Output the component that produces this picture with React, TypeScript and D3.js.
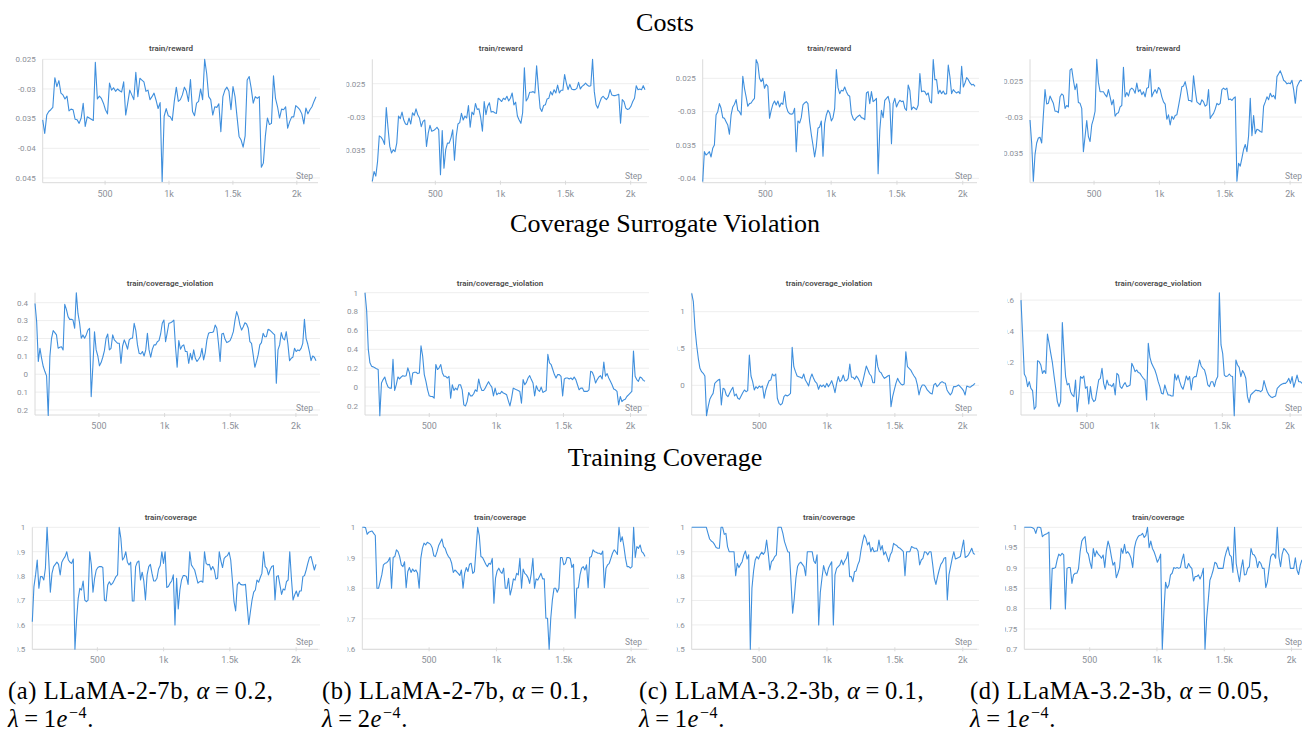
import React from "react";
import * as d3 from "d3";

// train/reward, one array per run (a)-(d)
const rewardA = [
  -0.0352,-0.0375,-0.0344,-0.0338,-0.0335,-0.0331,-0.0281,-0.0296,-0.0286,-0.0307,
  -0.0310,-0.0317,-0.0312,-0.0337,-0.0334,-0.0335,-0.0351,-0.0352,-0.0358,-0.0349,
  -0.0324,-0.0363,-0.0347,-0.0349,-0.0351,-0.0353,-0.0255,-0.0317,-0.0312,-0.0316,
  -0.0324,-0.0335,-0.0342,-0.0290,-0.0302,-0.0298,-0.0304,-0.0300,-0.0303,-0.0305,
  -0.0288,-0.0344,-0.0324,-0.0302,-0.0310,-0.0318,-0.0272,-0.0313,-0.0282,-0.0285,
  -0.0288,-0.0304,-0.0302,-0.0318,-0.0313,-0.0307,-0.0319,-0.0333,-0.0323,-0.0456,
  -0.0346,-0.0333,-0.0345,-0.0347,-0.0353,-0.0321,-0.0297,-0.0321,-0.0318,-0.0310,
  -0.0297,-0.0304,-0.0321,-0.0284,-0.0338,-0.0345,-0.0324,-0.0321,-0.0300,-0.0318,
  -0.0250,-0.0274,-0.0313,-0.0318,-0.0344,-0.0330,-0.0331,-0.0325,-0.0372,-0.0313,
  -0.0302,-0.0297,-0.0304,-0.0335,-0.0296,-0.0313,-0.0347,-0.0380,-0.0386,-0.0398,
  -0.0379,-0.0285,-0.0279,-0.0299,-0.0324,-0.0313,-0.0316,-0.0313,-0.0432,-0.0425,
  -0.0379,-0.0349,-0.0360,-0.0358,-0.0278,-0.0316,-0.0330,-0.0349,-0.0334,-0.0335,
  -0.0330,-0.0366,-0.0355,-0.0347,-0.0347,-0.0328,-0.0331,-0.0335,-0.0342,-0.0359,
  -0.0332,-0.0342,-0.0335,-0.0330,-0.0321,-0.0313,
];
const rewardB = [
  -0.0398,-0.0383,-0.0390,-0.0368,-0.0329,-0.0331,-0.0335,-0.0342,-0.0286,-0.0317,
  -0.0345,-0.0355,-0.0350,-0.0353,-0.0340,-0.0299,-0.0303,-0.0293,-0.0305,-0.0311,
  -0.0312,-0.0302,-0.0311,-0.0294,-0.0298,-0.0288,-0.0297,-0.0302,-0.0315,-0.0307,
  -0.0305,-0.0345,-0.0325,-0.0313,-0.0322,-0.0321,-0.0319,-0.0316,-0.0320,-0.0388,
  -0.0321,-0.0378,-0.0350,-0.0340,-0.0340,-0.0332,-0.0320,-0.0366,-0.0330,-0.0311,
  -0.0309,-0.0295,-0.0305,-0.0299,-0.0302,-0.0283,-0.0316,-0.0293,-0.0297,-0.0280,
  -0.0289,-0.0288,-0.0301,-0.0322,-0.0277,-0.0297,-0.0284,-0.0279,-0.0293,-0.0292,
  -0.0294,-0.0295,-0.0272,-0.0274,-0.0277,-0.0272,-0.0274,-0.0269,-0.0276,-0.0272,
  -0.0264,-0.0282,-0.0278,-0.0299,-0.0305,-0.0310,-0.0294,-0.0226,-0.0276,-0.0272,
  -0.0263,-0.0263,-0.0262,-0.0264,-0.0223,-0.0257,-0.0287,-0.0292,-0.0283,-0.0282,
  -0.0273,-0.0272,-0.0262,-0.0267,-0.0259,-0.0264,-0.0252,-0.0264,-0.0260,-0.0260,
  -0.0236,-0.0249,-0.0259,-0.0251,-0.0258,-0.0259,-0.0259,-0.0257,-0.0248,-0.0258,
  -0.0254,-0.0252,-0.0249,-0.0252,-0.0254,-0.0253,-0.0213,-0.0262,-0.0282,-0.0287,
  -0.0279,-0.0272,-0.0269,-0.0272,-0.0274,-0.0270,-0.0259,-0.0267,-0.0268,-0.0268,
  -0.0267,-0.0266,-0.0310,-0.0274,-0.0277,-0.0287,-0.0289,-0.0288,-0.0284,-0.0277,
  -0.0272,-0.0253,-0.0259,-0.0258,-0.0259,-0.0253,-0.0259,
];
const rewardC = [
  -0.0405,-0.0360,-0.0365,-0.0363,-0.0360,-0.0368,-0.0355,-0.0350,-0.0305,-0.0300,
  -0.0288,-0.0295,-0.0309,-0.0310,-0.0315,-0.0320,-0.0334,-0.0305,-0.0293,-0.0289,
  -0.0282,-0.0298,-0.0300,-0.0305,-0.0247,-0.0265,-0.0278,-0.0292,-0.0288,-0.0287,
  -0.0283,-0.0280,-0.0222,-0.0228,-0.0250,-0.0255,-0.0250,-0.0265,-0.0259,-0.0262,
  -0.0310,-0.0298,-0.0289,-0.0284,-0.0290,-0.0284,-0.0293,-0.0287,-0.0289,-0.0270,
  -0.0292,-0.0300,-0.0303,-0.0304,-0.0303,-0.0295,-0.0360,-0.0314,-0.0317,-0.0309,
  -0.0290,-0.0287,-0.0285,-0.0288,-0.0315,-0.0334,-0.0350,-0.0368,-0.0352,-0.0325,
  -0.0323,-0.0314,-0.0367,-0.0318,-0.0305,-0.0298,-0.0302,-0.0314,-0.0309,-0.0295,
  -0.0237,-0.0264,-0.0273,-0.0268,-0.0269,-0.0263,-0.0270,-0.0275,-0.0277,-0.0303,
  -0.0310,-0.0313,-0.0309,-0.0307,-0.0305,-0.0309,-0.0310,-0.0312,-0.0272,-0.0270,
  -0.0288,-0.0270,-0.0285,-0.0283,-0.0280,-0.0393,-0.0328,-0.0298,-0.0309,-0.0283,
  -0.0280,-0.0277,-0.0288,-0.0348,-0.0288,-0.0280,-0.0293,-0.0287,-0.0283,-0.0285,
  -0.0284,-0.0295,-0.0298,-0.0260,-0.0268,-0.0297,-0.0293,-0.0295,-0.0297,-0.0290,
  -0.0243,-0.0270,-0.0269,-0.0270,-0.0275,-0.0272,-0.0285,-0.0287,-0.0222,-0.0252,
  -0.0252,-0.0273,-0.0268,-0.0273,-0.0269,-0.0274,-0.0273,-0.0230,-0.0248,-0.0273,
  -0.0267,-0.0270,-0.0272,-0.0270,-0.0273,-0.0232,-0.0263,-0.0257,-0.0249,-0.0252,
  -0.0257,-0.0260,-0.0259,-0.0262,
];
const rewardD = [
  -0.0304,-0.0336,-0.0389,-0.0352,-0.0336,-0.0329,-0.0328,-0.0336,-0.0298,-0.0262,
  -0.0282,-0.0281,-0.0271,-0.0276,-0.0281,-0.0292,-0.0292,-0.0294,-0.0272,-0.0268,
  -0.0270,-0.0288,-0.0284,-0.0286,-0.0235,-0.0233,-0.0249,-0.0262,-0.0254,-0.0280,
  -0.0281,-0.0288,-0.0348,-0.0327,-0.0305,-0.0327,-0.0334,-0.0311,-0.0303,-0.0292,
  -0.0220,-0.0252,-0.0265,-0.0265,-0.0265,-0.0269,-0.0272,-0.0262,-0.0272,-0.0283,
  -0.0276,-0.0299,-0.0295,-0.0294,-0.0286,-0.0284,-0.0231,-0.0272,-0.0266,-0.0271,
  -0.0262,-0.0260,-0.0262,-0.0267,-0.0253,-0.0265,-0.0262,-0.0269,-0.0265,-0.0272,
  -0.0260,-0.0259,-0.0234,-0.0272,-0.0266,-0.0262,-0.0267,-0.0259,-0.0262,-0.0272,
  -0.0279,-0.0282,-0.0303,-0.0297,-0.0311,-0.0299,-0.0303,-0.0298,-0.0297,-0.0285,
  -0.0272,-0.0258,-0.0257,-0.0251,-0.0262,-0.0277,-0.0277,-0.0279,-0.0243,-0.0263,
  -0.0279,-0.0281,-0.0283,-0.0276,-0.0279,-0.0285,-0.0283,-0.0262,-0.0302,-0.0298,
  -0.0295,-0.0289,-0.0281,-0.0283,-0.0281,-0.0262,-0.0260,-0.0262,-0.0260,-0.0276,
  -0.0275,-0.0277,-0.0274,-0.0272,-0.0389,-0.0364,-0.0368,-0.0357,-0.0345,-0.0338,
  -0.0348,-0.0326,-0.0274,-0.0326,-0.0298,-0.0323,-0.0317,-0.0318,-0.0320,-0.0321,
  -0.0285,-0.0279,-0.0272,-0.0276,-0.0267,-0.0272,-0.0270,-0.0275,-0.0244,-0.0240,
  -0.0236,-0.0242,-0.0249,-0.0251,-0.0254,-0.0253,-0.0254,-0.0249,-0.0262,-0.0281,
  -0.0258,-0.0253,-0.0249,-0.0250,
];

// train/coverage_violation
const violationA = [
  0.396,0.294,0.071,0.145,0.089,0.043,0.015,-0.009,-0.231,0.099,
  0.201,0.244,0.233,0.220,0.145,0.151,0.154,0.136,0.391,0.363,
  0.322,0.307,0.307,0.303,0.257,0.456,0.340,0.285,0.201,0.220,
  0.201,0.220,0.247,0.257,-0.125,0.043,0.238,0.136,0.102,0.047,
  0.065,0.095,0.132,0.201,0.225,0.136,0.145,0.220,0.192,0.182,
  0.173,0.173,0.061,0.158,0.192,0.169,0.140,0.192,0.201,0.201,
  0.285,0.244,0.164,0.117,0.113,0.127,0.102,0.136,0.229,0.136,
  0.095,0.140,0.164,0.164,0.182,0.188,0.225,0.285,0.303,0.182,
  0.233,0.285,0.288,0.294,0.303,0.154,0.039,0.188,0.140,0.158,
  0.164,0.127,0.127,0.061,0.117,0.080,0.136,0.089,0.071,0.084,
  0.099,0.145,0.080,0.121,0.192,0.229,0.233,0.233,0.238,0.275,
  0.257,0.173,0.071,0.225,0.229,0.195,0.177,0.182,0.188,0.210,
  0.238,0.303,0.350,0.322,0.275,0.247,0.266,0.288,0.281,0.257,
  0.182,0.173,0.108,0.039,0.071,0.108,0.164,0.177,0.229,0.210,
  0.210,0.251,0.247,0.238,0.229,0.220,-0.050,0.136,0.164,0.233,
  0.201,0.192,0.238,0.169,0.076,0.089,0.095,0.145,0.127,0.136,
  0.132,0.145,0.173,0.307,0.201,0.169,0.127,0.076,0.102,0.095,
  0.076,
];
const violationB = [
  1.0,0.811,0.400,0.257,0.221,0.214,0.204,0.193,0.186,-0.304,
  0.043,0.079,0.107,0.043,0.0,-0.011,-0.011,0.293,-0.036,0.025,
  0.107,0.086,0.107,0.121,0.114,0.121,0.204,0.150,0.025,0.150,
  0.157,0.157,0.143,0.150,0.436,0.329,0.132,0.061,-0.029,-0.093,
  -0.100,-0.100,-0.118,0.239,0.186,0.204,0.239,0.150,0.114,0.114,
  0.096,0.114,-0.118,0.025,-0.036,-0.011,-0.029,0.025,0.025,-0.029,
  -0.189,-0.200,-0.154,-0.057,-0.093,-0.093,-0.071,-0.029,-0.046,0.086,
  0.007,-0.036,-0.036,-0.011,0.025,0.057,0.025,0.0,-0.093,-0.011,
  -0.082,-0.064,-0.071,-0.046,-0.064,-0.071,-0.082,-0.143,-0.200,-0.118,
  -0.011,-0.021,-0.029,-0.036,-0.046,-0.171,0.079,0.025,0.050,0.096,
  0.121,0.079,0.043,-0.093,0.014,-0.029,-0.046,0.0,-0.057,-0.046,
  -0.036,0.346,0.257,0.239,0.186,0.132,0.096,0.132,0.132,0.114,
  -0.093,0.086,0.096,0.096,0.086,0.096,0.079,0.107,0.079,0.025,
  -0.029,-0.011,-0.011,-0.046,-0.046,-0.046,-0.029,0.168,0.157,0.114,
  0.043,0.079,0.107,0.121,0.086,0.264,0.114,0.143,0.096,0.061,
  0.025,-0.021,-0.029,-0.046,-0.189,-0.100,-0.154,-0.136,-0.129,-0.100,
  -0.082,-0.064,-0.046,0.382,0.114,0.079,0.061,0.107,0.096,0.071,
  0.061,
];
const violationC = [
  1.249,1.136,0.774,0.548,0.367,0.231,0.186,0.163,0.127,-0.412,
  -0.290,-0.190,-0.145,-0.109,0.027,0.050,0.072,0.081,-0.267,-0.041,
  -0.054,-0.131,-0.154,-0.109,-0.063,-0.027,-0.145,-0.118,-0.176,-0.190,
  -0.145,-0.100,-0.063,-0.086,-0.072,0.412,0.127,0.050,-0.063,-0.018,
  -0.041,-0.009,-0.027,-0.009,-0.176,-0.063,0.005,0.063,0.072,0.154,
  0.127,0.154,-0.176,-0.244,-0.267,-0.244,-0.154,-0.131,-0.145,-0.131,
  -0.109,0.516,0.253,0.186,0.127,0.118,0.109,0.095,0.154,0.072,
  0.036,-0.009,0.095,0.154,0.095,0.050,0.027,-0.054,0.005,-0.018,
  0.005,-0.027,0.027,-0.018,0.018,0.063,-0.009,-0.100,0.027,0.118,
  0.050,0.072,0.140,0.063,0.063,0.095,0.290,0.109,0.109,0.081,
  0.127,0.095,0.050,-0.018,0.063,0.163,0.262,0.208,0.154,0.127,
  0.036,0.036,0.412,0.253,0.186,0.172,0.127,0.095,0.109,0.127,
  0.136,-0.290,-0.154,-0.063,0.027,0.095,0.050,0.018,0.005,0.018,
  0.457,0.253,0.231,0.208,0.163,0.127,0.095,0.005,-0.131,-0.041,
  0.005,0.005,-0.018,-0.063,-0.086,-0.109,-0.118,0.005,0.027,-0.018,
  0.005,0.036,0.050,0.036,0.027,-0.063,-0.100,-0.131,-0.100,-0.018,
  -0.018,-0.009,0.005,-0.018,-0.041,-0.072,-0.131,-0.009,-0.018,-0.027,
  -0.009,0.005,0.027,
];
const violationD = [
  0.600,0.363,0.121,0.099,0.039,0.071,0.028,0.013,-0.108,-0.091,
  0.207,0.201,0.179,0.125,0.143,0.125,0.380,0.320,0.255,0.194,
  0.108,0.028,-0.058,-0.091,-0.058,0.454,0.255,0.104,0.050,0.060,
  0.006,-0.015,-0.026,0.082,-0.123,-0.026,0.104,0.093,0.108,0.028,
  0.039,-0.073,0.039,-0.037,-0.058,-0.048,0.017,0.082,0.093,0.158,
  0.060,0.022,0.082,0.050,0.050,0.039,0.060,-0.015,0.125,0.114,
  0.039,0.028,0.050,0.065,0.039,0.043,0.050,0.190,0.168,0.136,
  0.147,0.130,0.125,0.108,0.093,0.082,-0.048,0.320,0.229,0.190,
  0.168,0.147,0.114,0.071,0.039,-0.004,-0.009,0.050,0.013,-0.015,
  -0.015,-0.022,-0.022,0.121,0.082,0.114,0.071,0.039,0.022,0.060,
  0.108,0.082,0.104,0.017,0.093,0.104,0.104,0.158,0.212,0.173,
  0.158,0.147,0.108,0.050,0.039,0.071,0.071,0.039,0.082,0.104,
  0.648,0.309,0.255,0.114,0.104,0.108,0.121,0.108,0.104,-0.149,
  0.212,0.179,0.164,0.104,0.143,0.125,0.093,-0.026,-0.065,-0.015,
  -0.004,0.006,0.017,0.013,0.013,0.006,0.017,0.078,0.039,0.006,
  -0.015,-0.026,-0.032,-0.026,-0.022,0.028,0.039,0.050,0.056,0.060,
  0.060,0.071,0.093,0.060,0.104,0.035,0.071,0.114,0.071,0.071,
  0.060,
];

// train/coverage
const coverageA = [
  0.613,0.757,0.805,0.866,0.750,0.798,0.798,0.784,0.832,1.0,
  0.873,0.734,0.811,0.839,0.848,0.857,0.848,0.805,0.857,0.870,
  0.880,0.900,0.866,0.857,0.852,0.870,0.500,0.620,0.709,0.750,
  0.743,0.780,0.702,0.695,0.702,0.900,0.846,0.734,0.791,0.825,
  0.835,0.839,0.839,0.835,0.702,0.698,0.764,0.777,0.764,0.771,
  0.784,0.798,0.805,1.0,0.955,0.866,0.876,0.900,0.857,0.846,
  0.857,0.698,0.698,0.839,0.857,0.862,0.784,0.816,0.780,0.702,
  0.805,0.839,0.848,0.811,0.780,0.780,0.791,0.829,0.843,0.900,
  0.852,0.900,0.753,0.757,0.771,0.780,0.805,0.600,0.791,0.665,
  0.743,0.784,0.802,0.802,0.798,0.766,0.900,0.846,0.835,0.825,
  0.798,0.771,0.777,0.780,0.775,0.900,0.852,0.846,0.848,0.825,
  0.839,0.825,0.788,0.791,0.900,0.862,0.835,0.873,0.880,0.884,
  0.898,0.866,0.784,0.695,0.657,0.764,0.775,0.766,0.764,0.764,
  0.766,0.682,0.602,0.654,0.702,0.734,0.743,0.784,0.775,0.794,
  0.811,0.900,0.839,0.832,0.805,0.825,0.839,0.843,0.702,0.798,
  0.802,0.764,0.725,0.747,0.743,0.777,0.784,0.900,0.791,0.702,
  0.723,0.739,0.716,0.739,0.739,0.798,0.802,0.825,0.852,0.876,
  0.880,0.852,0.825,0.848,
];
const coverageB = [
  1.0,1.0,0.999,0.977,0.984,0.986,0.988,0.980,0.973,0.800,
  0.800,0.822,0.844,0.877,0.882,0.884,0.890,0.901,0.800,0.901,
  0.904,0.926,0.920,0.904,0.877,0.871,0.887,0.802,0.855,0.868,
  0.852,0.863,0.855,0.860,0.849,0.800,0.898,0.931,0.948,0.942,
  0.951,0.948,0.944,0.933,0.907,0.904,0.920,0.940,0.951,0.962,
  0.937,0.931,0.915,0.904,0.898,0.882,0.852,0.860,0.855,0.849,
  0.842,0.860,0.800,0.849,0.868,0.855,0.879,0.882,0.849,0.855,
  0.926,1.0,0.973,0.904,0.901,0.890,0.879,0.871,0.882,0.879,
  0.898,0.751,0.833,0.857,0.866,0.855,0.849,0.866,0.800,0.800,
  0.833,0.778,0.800,0.831,0.827,0.849,0.844,0.898,0.800,0.863,
  0.849,0.844,0.835,0.816,0.849,0.898,0.800,0.831,0.827,0.838,
  0.849,0.831,0.831,0.702,0.702,0.600,0.702,0.762,0.800,0.800,
  0.787,0.800,0.901,0.901,0.877,0.882,0.901,0.901,0.898,0.868,
  0.879,0.702,0.800,0.802,0.844,0.866,0.871,0.860,0.877,0.802,
  0.901,0.904,0.926,0.920,0.918,0.915,0.915,0.911,0.922,0.802,
  0.866,0.877,0.882,0.898,0.915,0.926,0.920,0.911,1.0,0.953,
  0.969,0.937,0.898,0.871,0.871,0.866,0.871,1.0,0.901,0.937,
  0.931,0.942,0.920,0.915,0.904,
];
const coverageC = [
  1.0,1.0,1.0,1.0,1.0,1.0,1.0,1.0,1.0,1.0,
  0.975,0.952,0.944,0.939,0.930,0.917,0.914,0.914,1.0,1.0,
  0.971,0.975,0.921,0.900,0.900,0.900,0.900,0.802,0.852,0.835,
  0.848,0.859,0.887,0.903,0.870,0.887,0.500,0.750,0.821,0.866,
  0.880,0.870,0.887,0.898,0.889,0.900,0.948,0.893,0.825,0.859,
  0.866,0.880,0.887,1.0,1.0,1.0,0.975,0.941,0.921,0.900,
  0.898,0.777,0.648,0.709,0.791,0.839,0.852,0.857,0.848,0.839,
  0.802,0.900,0.900,0.900,0.900,0.862,0.852,0.887,0.600,0.734,
  0.791,0.843,0.818,0.802,0.832,0.846,0.859,0.600,0.805,0.832,
  0.839,0.846,0.866,0.846,0.862,0.873,0.900,0.798,0.798,0.777,
  0.818,0.821,0.846,0.862,0.907,0.941,0.969,0.955,0.928,0.939,
  0.900,0.917,0.900,0.903,0.903,0.948,0.907,0.925,0.887,0.900,
  0.880,0.859,0.887,0.900,0.934,0.928,0.925,0.917,0.914,0.907,
  0.900,0.802,0.900,0.900,0.900,0.921,0.917,0.914,0.914,0.903,
  0.846,0.866,0.873,0.900,0.898,0.887,0.900,0.900,0.848,0.791,
  0.766,0.798,0.825,0.848,0.857,0.873,0.876,0.702,0.805,0.839,
  0.873,0.900,0.870,0.873,0.876,0.880,0.914,0.948,0.876,0.880,
  0.887,0.900,0.914,0.893,0.889,
];
const coverageD = [
  1.0,1.0,1.0,1.0,1.0,0.999,0.996,0.985,1.0,1.0,
  0.999,0.977,0.981,0.983,0.985,0.988,0.799,0.899,0.899,0.901,
  0.920,0.934,0.930,0.936,0.932,0.799,0.899,0.901,0.901,0.862,
  0.883,0.887,0.887,0.898,0.940,0.966,0.973,0.977,0.940,0.934,
  0.914,0.899,0.948,0.928,0.942,0.934,0.930,0.924,0.932,0.901,
  0.944,0.966,0.952,0.928,0.907,0.914,0.876,0.887,0.901,0.948,
  0.936,0.958,0.936,0.940,0.934,0.924,0.901,0.948,0.966,0.975,
  0.980,0.981,0.985,0.975,0.980,1.0,0.950,0.966,0.948,0.940,
  0.928,0.914,0.922,0.934,0.700,0.793,0.865,0.850,0.858,0.883,
  0.887,0.901,0.899,0.901,0.899,0.901,0.920,0.934,0.901,0.899,
  0.911,0.903,0.899,0.868,0.879,0.879,0.883,0.873,0.883,0.899,
  0.700,0.776,0.821,0.870,0.881,0.895,0.914,0.911,0.899,0.899,
  0.899,0.899,0.925,0.940,0.952,0.932,0.928,0.889,1.0,0.911,
  0.887,0.866,0.899,0.920,0.883,0.884,0.899,0.903,0.948,0.934,
  0.932,0.924,0.901,0.916,0.911,0.899,0.899,0.852,0.866,0.899,
  0.928,0.934,0.934,0.924,1.0,0.928,0.903,0.934,0.948,0.944,
  0.938,0.932,0.899,0.899,0.899,0.925,0.895,0.884,0.907,0.920,
];

// first and last logged step of every run, and the visible step range
const stepRanges = [
  [12, 2150], [16, 2110], [24, 2093], [10, 2091],
  [13, 2153], [21, 2108], [2, 2091], [15, 2088],
  [9, 2150], [4, 2103], [4, 2090], [14, 2077],
];
const stepDomains = [
  [12, 2150], [16, 2110], [24, 2093], [10, 2114],
  [13, 2153], [21, 2108], [2, 2091], [15, 2110],
  [9, 2150], [4, 2103], [4, 2090], [14, 2100],
];
const valueDomains = [
  [-0.0458, -0.025], [-0.04, -0.0213], [-0.04066, -0.02215], [-0.0391, -0.022],
  [-0.228, 0.456], [-0.296, 1.0], [-0.403, 1.258], [-0.145, 0.648],
  [0.5, 1], [0.6, 1], [0.5, 1], [0.7, 1],
];
const valueTicks = [
  [-0.045, -0.04, -0.035, -0.03, -0.025], [-0.035, -0.03, -0.025], [-0.04, -0.035, -0.03, -0.025], [-0.035, -0.03, -0.025],
  [-0.2, -0.1, 0, 0.1, 0.2, 0.3, 0.4], [-0.2, 0, 0.2, 0.4, 0.6, 0.8, 1], [0, 0.5, 1], [0, 0.2, 0.4, 0.6],
  [0.5, 0.6, 0.7, 0.8, 0.9, 1], [0.6, 0.7, 0.8, 0.9, 1], [0.5, 0.6, 0.7, 0.8, 0.9, 1], [0.7, 0.75, 0.8, 0.85, 0.9, 0.95, 1],
];
const stepTicks = [500, 1000, 1500, 2000];

const series = [
  rewardA, rewardB, rewardC, rewardD,
  violationA, violationB, violationC, violationD,
  coverageA, coverageB, coverageC, coverageD,
];
const metricNames = ["train/reward", "train/coverage_violation", "train/coverage"];
const sectionTitles = ["Costs", "Coverage Surrogate Violation", "Training Coverage"];
const runLetters = ["a", "b", "c", "d"];
const runModels = ["LLaMA-2-7b", "LLaMA-2-7b", "LLaMA-3.2-3b", "LLaMA-3.2-3b"];
const runAlphas = ["0.2", "0.1", "0.1", "0.05"];
const runLambdas = ["1", "2", "1", "1"];

// layout of the screenshot tiles
const rowBoxes = [
  { top: 59.3, bottom: 182.7, titleY: 51, sectionY: 31 },
  { top: 292.7, bottom: 415, titleY: 285.7, sectionY: 232 },
  { top: 527.3, bottom: 649.3, titleY: 519.7, sectionY: 466 },
];
const colBoxes = [
  // [left, right, clipLeft, titleX] per row
  [[42.7, 316, 15.5, 171], [35, 316, 17, 170], [32.3, 316, 17.5, 170.7]],
  [[372.3, 645, 346.5, 500.7], [365, 645, 346.8, 500], [362.3, 645, 347.5, 500]],
  [[702.7, 975, 676, 829.3], [691.7, 975, 677.5, 829], [691.7, 975, 676.8, 829]],
  [[1030, 1305, 1004.3, 1158.3], [1021, 1305, 1007, 1158.3], [1024.3, 1305, 1005, 1158.3]],
];
const captionX = [8, 322, 639, 970];

const LINE = "#3f8fdd";
const GRID = "#eeeeee";
const AXIS = "#dadada";
const MUTED = "#8c9098";
const SANS = "Roboto, 'Noto Sans', sans-serif";
const SERIF = "'Liberation Serif', 'Times New Roman', serif";

const fmtValue = (v: number) => String(+v.toFixed(4));
const fmtStep = d3.format("~s");

function Tile({ idx }: { idx: number }) {
  const row = Math.floor(idx / 4);
  const col = idx % 4;
  const rb = rowBoxes[row];
  const [left, right, clipLeft, titleX] = colBoxes[col][row];
  const values = series[idx];
  const [s0, s1] = stepRanges[idx];

  const x = d3.scaleLinear().domain(stepDomains[idx]).range([left, right]);
  const y = d3.scaleLinear().domain(valueDomains[idx]).range([rb.bottom, rb.top]);
  const stepAt = d3.scaleLinear().domain([0, values.length - 1]).range([s0, s1]);
  const line = d3
    .line<number>()
    .x((_, i) => x(stepAt(i)))
    .y((d) => y(d));

  const clipId = `tile-${idx}`;
  return (
    <g>
      <defs>
        <clipPath id={clipId}>
          <rect x={clipLeft} y={rb.top - 40} width={right + 20 - clipLeft} height={rb.bottom - rb.top + 70} />
        </clipPath>
      </defs>
      <g clipPath={`url(#${clipId})`} fontFamily={SANS}>
        <text x={titleX} y={rb.titleY} textAnchor="middle" fontSize={8} fontWeight={600} fill="#4a4a4a">
          {metricNames[row]}
        </text>
        {valueTicks[idx].map((t) => (
          <g key={t}>
            <line x1={left} x2={right + 4} y1={y(t)} y2={y(t)} stroke={GRID} strokeWidth={1} />
            <text x={left - 7} y={y(t)} dy="0.35em" textAnchor="end" fontSize={8} fill={MUTED}>
              {fmtValue(t)}
            </text>
          </g>
        ))}
        <line x1={left} x2={left} y1={rb.top} y2={rb.bottom} stroke={AXIS} />
        <line x1={left} x2={right + 2} y1={rb.bottom} y2={rb.bottom} stroke={AXIS} />
        {stepTicks.map((t) => (
          <g key={t}>
            <line x1={x(t)} x2={x(t)} y1={rb.bottom - 2} y2={rb.bottom + 2} stroke={AXIS} />
            <text x={x(t)} y={rb.bottom + 14} textAnchor="middle" fontSize={9} fill={MUTED}>
              {fmtStep(t)}
            </text>
          </g>
        ))}
        <text x={right - 3} y={rb.bottom - 4} textAnchor="end" fontSize={8.5} fill={MUTED}>
          Step
        </text>
        <path d={line(values) ?? ""} fill="none" stroke={LINE} strokeWidth={1.1} strokeLinejoin="round" />
      </g>
    </g>
  );
}

export default function App() {
  return (
    <div style={{ position: "absolute", left: 0, top: 0 }}>
      <svg width={1302} height={737} style={{ display: "block", background: "#fff" }}>
        {sectionTitles.map((t, i) => (
          <text key={t} x={665} y={rowBoxes[i].sectionY} textAnchor="middle" fontFamily={SERIF} fontSize={26} fill="#000">
            {t}
          </text>
        ))}
        {series.map((_, i) => (
          <Tile key={i} idx={i} />
        ))}
        {runLetters.map((l, i) => (
          <g key={l} fontFamily={SERIF} fontSize={24.5} fill="#000" letterSpacing={0.6}>
            <text x={captionX[i]} y={699}>
              {`(${l}) ${runModels[i]}, `}
              <tspan fontStyle="italic">α</tspan>
              <tspan dx={5}>=</tspan>
              <tspan dx={5}>{runAlphas[i]},</tspan>
            </text>
            <text x={captionX[i]} y={727}>
              <tspan fontStyle="italic">λ</tspan>
              <tspan dx={5}>=</tspan>
              <tspan dx={5}>{runLambdas[i]}</tspan>
              <tspan fontStyle="italic">e</tspan>
              <tspan dy={-9} dx={1} fontSize={16}>−4</tspan>
              <tspan dy={9}>.</tspan>
            </text>
          </g>
        ))}
      </svg>
    </div>
  );
}
